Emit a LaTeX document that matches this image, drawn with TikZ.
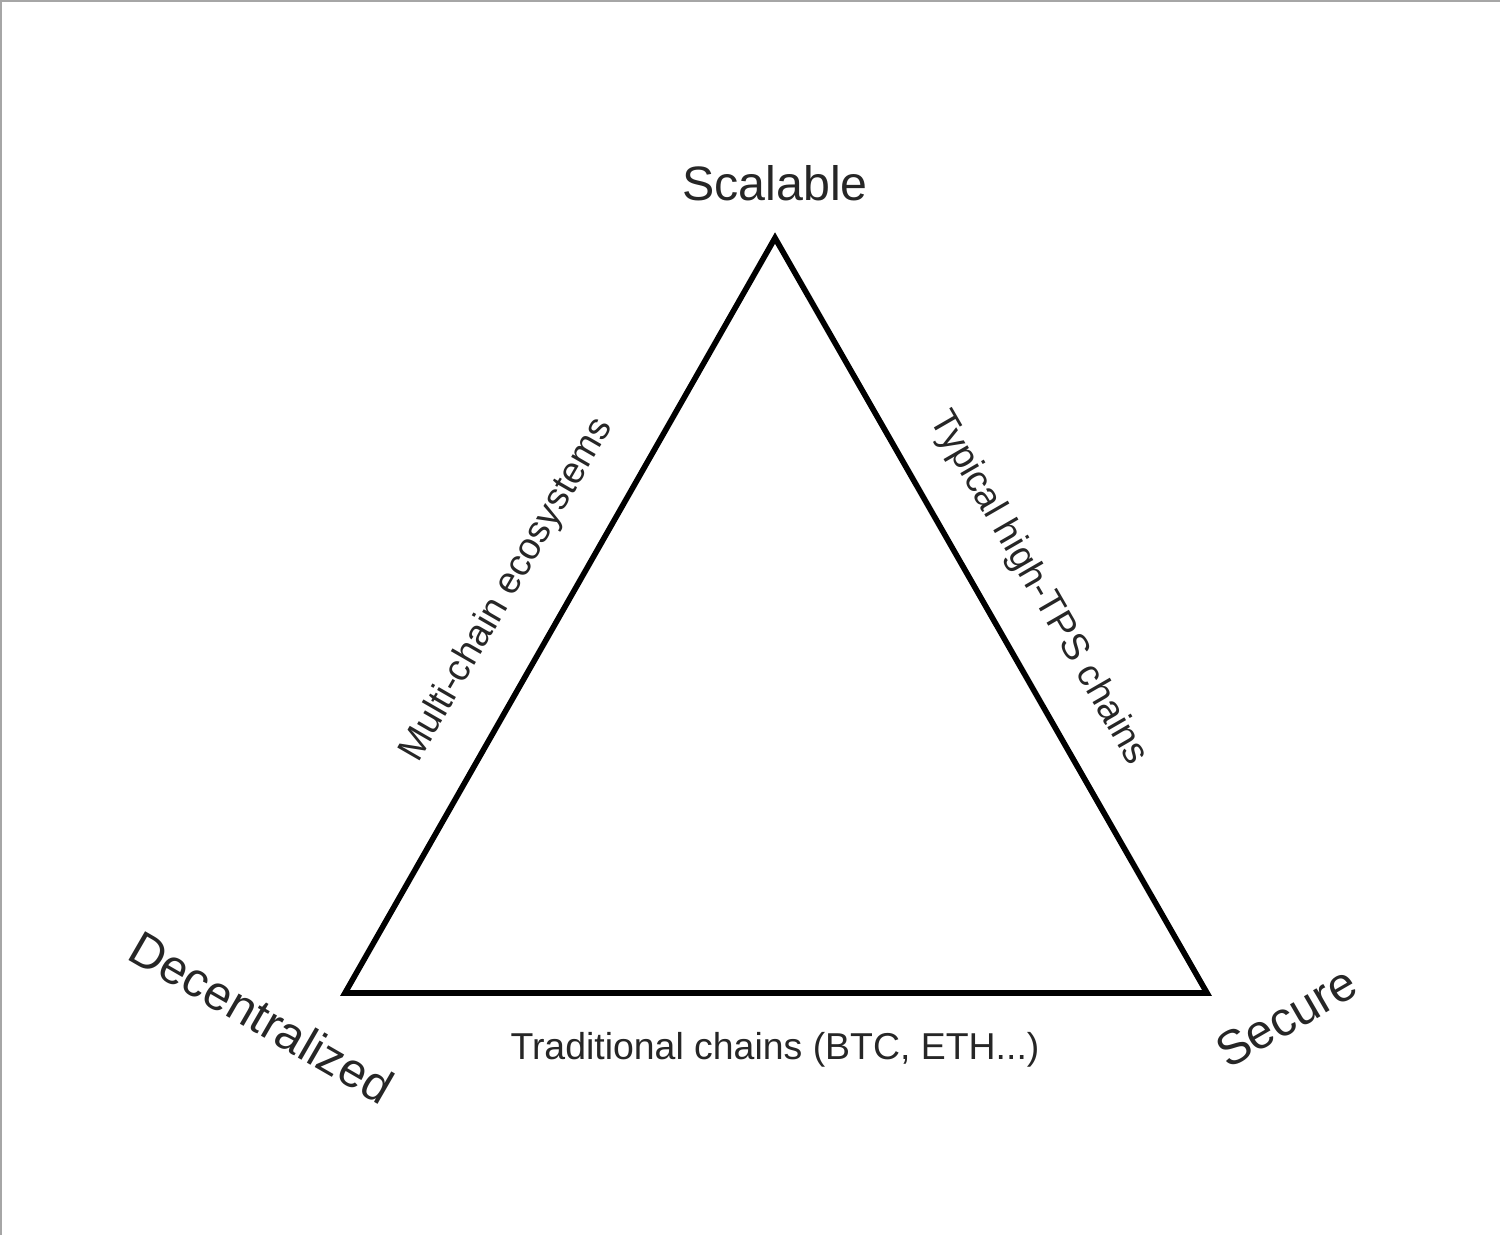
\documentclass[tikz,border=0pt]{standalone}
\usepackage{fontspec}
\setmainfont{Liberation Sans}
\usetikzlibrary{positioning}

\begin{document}
\begin{tikzpicture}[x=0.02cm, y=0.02cm,
    corner/.style={font=\fontsize{27.5}{32}\selectfont, text=black!85},
    side/.style={font=\fontsize{21.3}{25}\selectfont, text=black!85}]

% Frame
\useasboundingbox (0,0) rectangle (1500,1235);
\draw[gray!70, line width=0.6pt] (1,0) -- (1,1234) -- (1500,1234);

% Corners of the triangle
\coordinate (top) at (775,997);
\coordinate (left) at (345,242);
\coordinate (right) at (1207,242);

\draw[line width=3.2pt, line join=miter] (top) -- (right) -- (left) -- cycle;

% Corner labels
\node[corner] (scalable) at (775,1052) {Scalable};
\node[corner, rotate=-30] (decentralized) at (262,218) {Decentralized};
\node[corner, rotate=30] (secure) at (1286,218) {Secure};

% Side labels
\node[side] (traditional) at (775,185) {Traditional chains (BTC, ETH...)};
\node[side, rotate=60] (multichain) at (507,645) {Multi-chain ecosystems};
\node[side, rotate=-60] (typical) at (1038,647) {Typical high-TPS chains};

\end{tikzpicture}
\end{document}
